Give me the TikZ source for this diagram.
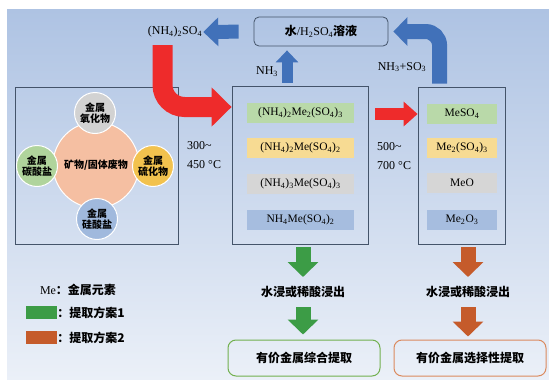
\documentclass[tikz,border=0pt]{standalone}
\usepackage{fontspec}
\setmainfont{Liberation Serif}
\newfontfamily\cjk{Noto Sans CJK SC}
\usepackage{tikz}
\usetikzlibrary{arrows.meta, positioning, calc}
\usepackage{xcolor}
\definecolor{bgtop}{HTML}{AEC3E3}
\definecolor{bgbot}{HTML}{EBF0F8}
\definecolor{frame}{HTML}{44546A}
\definecolor{redarr}{HTML}{EE2B2B}
\definecolor{bluearr}{HTML}{4171B9}
\definecolor{greenarr}{HTML}{3C9C46}
\definecolor{orangearr}{HTML}{C55B2B}
\definecolor{orecore}{HTML}{F5BFA2}
\definecolor{cgray}{HTML}{D2D2D2}
\definecolor{cgreen}{HTML}{B0D49C}
\definecolor{cyellow}{HTML}{F2C24E}
\definecolor{cblue}{HTML}{A0B9DD}
\definecolor{tgreen}{HTML}{B9D9A9}
\definecolor{tyellow}{HTML}{F7DB93}
\definecolor{tgray}{HTML}{D6D6D6}
\definecolor{tblue}{HTML}{A6BDDF}
\definecolor{okgreen}{HTML}{72B04F}
\definecolor{okorange}{HTML}{DB8A5E}
\newcommand{\sbs}[1]{\textsubscript{#1}}

\begin{document}
\begin{tikzpicture}[
    x=1pt, y=-1pt,
    frame/.style={draw=frame, line width=0.8pt},
    phase/.style={minimum height=20pt, inner sep=0pt, font=\fontsize{11.5}{12}\selectfont},
    mineral/.style={circle, draw=white, line width=1pt, minimum size=41pt, inner sep=0pt,
                    align=center, font=\cjk\bfseries\fontsize{10}{11.5}\selectfont},
    label/.style={inner sep=1pt, font=\fontsize{12}{14}\selectfont},
    cnlabel/.style={inner sep=1pt, font=\cjk\bfseries\fontsize{12}{14}\selectfont},
    result/.style={draw, line width=1pt, rounded corners=8pt, minimum width=152pt, minimum height=36pt,
                   font=\cjk\bfseries\fontsize{12}{14}\selectfont},
    downarrow/.style={line width=15pt, -{Triangle[length=15pt, width=30pt]}}
]
\useasboundingbox (0,0) rectangle (549,380);
\shade[top color=bgtop, bottom color=bgbot] (7,9) rectangle (549,380);

% raw material
\node[frame, minimum width=163pt, minimum height=157pt] (feed) at (96.5,165.5) {};
\node[circle, fill=orecore, draw=white, line width=1pt, minimum size=86pt,
      font=\cjk\bfseries\fontsize{10}{11}\selectfont] (ore) at (96,165) {矿物/固体废物};
\node[mineral, fill=cgray]   (oxide)     at (95,113)  {金属\\氧化物};
\node[mineral, fill=cgreen]  (carbonate) at (37,166)  {金属\\碳酸盐};
\node[mineral, fill=cyellow] (sulfide)   at (153,166) {金属\\硫化物};
\node[mineral, fill=cblue]   (silicate)  at (97,219)  {金属\\硅酸盐};

% low temperature roasting
\node[frame, minimum width=136pt, minimum height=158pt] (mid) at (300,165) {};
\node[phase, fill=tgreen,  minimum width=107pt] (m1) at (300.5,113)   {(NH\sbs{4})\sbs{2}Me\sbs{2}(SO\sbs{4})\sbs{3}};
\node[phase, fill=tyellow, minimum width=107pt] (m2) at (300.5,147.5) {(NH\sbs{4})\sbs{2}Me(SO\sbs{4})\sbs{2}};
\node[phase, fill=tgray,   minimum width=107pt] (m3) at (300.5,183.5) {(NH\sbs{4})\sbs{3}Me(SO\sbs{4})\sbs{3}};
\node[phase, fill=tblue,   minimum width=107pt] (m4) at (300.5,220)   {NH\sbs{4}Me(SO\sbs{4})\sbs{2}};

% high temperature roasting
\node[frame, minimum width=87pt, minimum height=157pt] (high) at (461.5,165.5) {};
\node[phase, fill=tgreen,  minimum width=70pt] (r1) at (462,114)   {MeSO\sbs{4}};
\node[phase, fill=tyellow, minimum width=70pt] (r2) at (462,148)   {Me\sbs{2}(SO\sbs{4})\sbs{3}};
\node[phase, fill=tgray,   minimum width=70pt] (r3) at (462,183)   {MeO};
\node[phase, fill=tblue,   minimum width=70pt] (r4) at (462,219.5) {Me\sbs{2}O\sbs{3}};

\node[label, anchor=west, align=left, font=\fontsize{12}{19}\selectfont] (t1) at (186,155.5) {300\textasciitilde\\450 °C};
\node[label, anchor=west, align=left, font=\fontsize{12}{19}\selectfont] (t2) at (376,156) {500\textasciitilde\\700 °C};

% gas recycling
\node[frame, rounded corners=5pt, minimum width=134pt, minimum height=29pt,
      font=\fontsize{12}{14}\selectfont] (sol) at (321,31.5)
      {{\cjk\bfseries 水}/H\sbs{2}SO\sbs{4}{\cjk\bfseries 溶液}};
\node[label] (ammsulf) at (175,32) {(NH\sbs{4})\sbs{2}SO\sbs{4}};
\node[label] (nh3)  at (267,72) {NH\sbs{3}};
\node[label] (gas)  at (402,67) {NH\sbs{3}+SO\sbs{3}};

\coordinate (redstart) at (162.5,45);
\coordinate (redturn) at (162.5,107);
\coordinate (nh3foot) at ($(mid.north)+(-13,-3)$);
\coordinate (gasfoot) at ($(high.north west)+(22,-3)$);

\draw[redarr, line width=20pt, rounded corners=22pt, -{Triangle[length=20pt, width=38pt]}]
    (redstart) |- (mid.west |- redturn);
\draw[redarr, line width=12pt, shorten <=7pt, -{Triangle[length=14pt, width=24pt]}]
    (mid.east |- r1) -- (high.west |- r1);
\draw[bluearr, line width=14pt, shorten <=15pt, -{Triangle[length=15pt, width=28pt]}]
    (sol.west) -- (ammsulf.east);
\draw[bluearr, line width=11pt, shorten >=4pt, -{Triangle[length=12pt, width=22pt]}]
    (nh3foot) -- (sol.south -| nh3foot);
\draw[bluearr, line width=15pt, rounded corners=14pt, shorten >=5pt, -{Triangle[length=14pt, width=28pt]}]
    (gasfoot) |- (sol.east);

% leaching
\node[cnlabel] (leach1) at (303,292) {水浸或稀酸浸出};
\node[cnlabel] (leach2) at (468,292) {水浸或稀酸浸出};
\node[result, draw=okgreen]  (sum) at (304,358) {有价金属综合提取};
\node[result, draw=okorange] (sel) at (470,358) {有价金属选择性提取};

\draw[greenarr, downarrow, shorten <=3pt, shorten >=8pt] (mid.south -| leach1) -- (leach1.north);
\draw[greenarr, downarrow, shorten <=8pt, shorten >=5pt] (leach1.south) -- (sum.north -| leach1);
\draw[orangearr, downarrow, shorten <=3pt, shorten >=8pt] (high.south -| leach2) -- (leach2.north);
\draw[orangearr, downarrow, shorten <=8pt, shorten >=3pt] (leach2.south) -- (sel.north -| leach2);

% legend
\node[label] (me) at (78,290) {Me{\cjk\bfseries ：金属元素}};
\node[fill=greenarr, minimum width=31pt, minimum height=13pt, inner sep=0pt] (key1) at (41.5,312.5) {};
\node[fill=orangearr, minimum width=31pt, minimum height=13pt, inner sep=0pt] (key2) at (41.5,337.5) {};
\node[cnlabel, anchor=west, inner sep=0pt] (key1txt) at (key1.east) {：提取方案1};
\node[cnlabel, anchor=west, inner sep=0pt] (key2txt) at (key2.east) {：提取方案2};
\end{tikzpicture}
\end{document}
